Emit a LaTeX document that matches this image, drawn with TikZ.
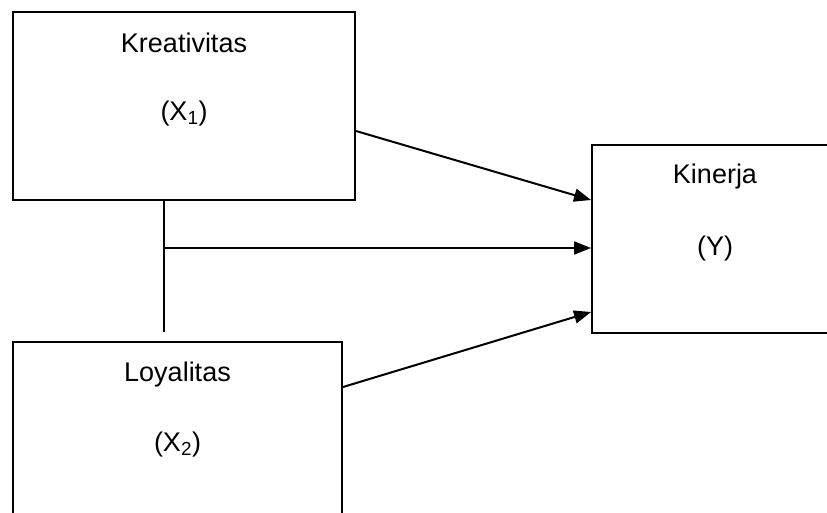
\documentclass[tikz,border=0pt]{standalone}
\usepackage{fontspec}
\setmainfont{Liberation Sans}
\usetikzlibrary{arrows.meta}
\begin{document}
\begin{tikzpicture}[x=1pt,y=-1pt,
  boxnode/.style={draw,line width=2pt,rectangle,inner sep=0pt},
  lbl/.style={anchor=base,inner sep=0pt,font=\fontsize{27}{32}\selectfont},
  conn/.style={line width=2pt},
  arr/.style={conn,-{Triangle[length=17pt,width=13pt]}}]
\useasboundingbox (0,0) rectangle (827,512);
\clip (0,0) rectangle (827,512);
\node[boxnode,minimum width=342pt,minimum height=188pt] (kre) at (184,106) {};
\node[boxnode,minimum width=246pt,minimum height=188pt] (kin) at (715,239) {};
\node[boxnode,minimum width=329pt,minimum height=188pt] (loy) at (177.5,436) {};
\node[lbl] (kret) at (184,52) {Kreativitas};
\node[lbl] (krex) at (184,120) {(X\textsubscript{1})};
\node[lbl] (kint) at (715,183) {Kinerja};
\node[lbl] (kinx) at (715,255) {(Y)};
\node[lbl] (loyt) at (177.5,381) {Loyalitas};
\node[lbl] (loyx) at (177.5,451) {(X\textsubscript{2})};
\coordinate (junc) at ([xshift=-20pt]kre.south |- 0,248);
\coordinate (vend) at ([xshift=-20pt]kre.south |- 0,332);
\draw[conn] ([xshift=-20pt]kre.south) -- (vend);
\draw[arr] ([yshift=-25pt]kre.east) -- ([yshift=39pt]kin.west);
\draw[arr] (junc) -- (kin.west |- junc);
\draw[arr] ([yshift=49pt]loy.east) -- ([yshift=-73pt]kin.west);
\end{tikzpicture}
\end{document}
